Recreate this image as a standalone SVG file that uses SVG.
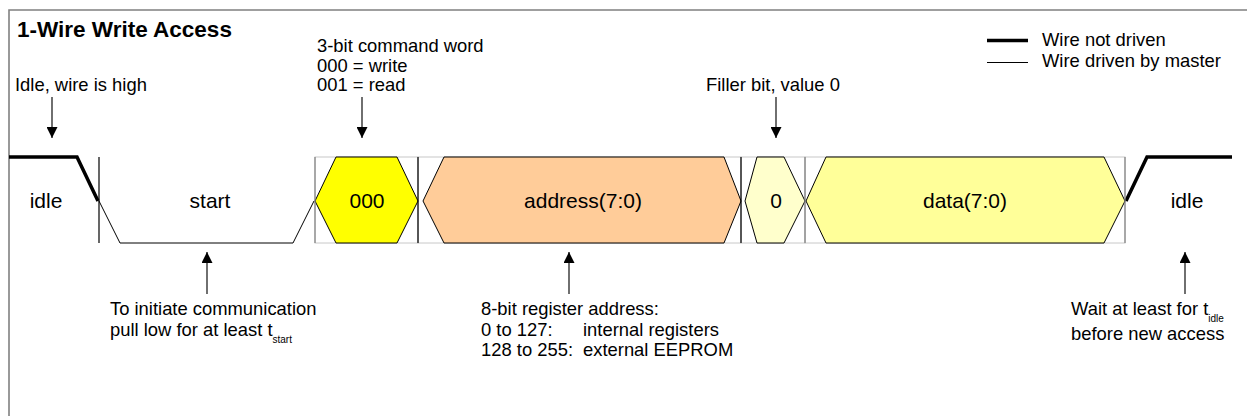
<svg xmlns="http://www.w3.org/2000/svg" width="1247" height="416" viewBox="0 0 1247 416">
<defs>
<style>
text{font-family:"Liberation Sans",Arial,sans-serif;fill:#000}
.ann{font-size:18.4px}
.lbl{font-size:21px;text-anchor:middle}
.sub{font-size:10px}
.title{font-size:22.5px;font-weight:bold}
.thick{fill:none;stroke:#000;stroke-width:3.5;stroke-linejoin:miter}
.thin{fill:none;stroke:#000;stroke-width:1}
.hex{stroke:#000;stroke-width:1}
.cell{fill:none;stroke:#c8c8c8;stroke-width:1}
.sep{stroke:#000;stroke-width:1.2}
.sepg{stroke:#808080;stroke-width:1.2}
.arr{stroke:#333;stroke-width:1.4;fill:none}
.frame{fill:none;stroke:#808080;stroke-width:1.6}
</style>
<marker id="ah" viewBox="0 0 10 10" refX="10" refY="5" markerWidth="11" markerHeight="11" markerUnits="userSpaceOnUse" orient="auto">
<path d="M0,0 L10,5 L0,10 Z" fill="#000"/>
</marker>
</defs>
<rect width="1247" height="416" fill="#fff"/>
<polyline class="frame" points="9,416 9,10 1247,10"/>
<g id="title"><text class="title" x="17" y="36.5">1-Wire Write Access</text></g>
<g id="legend">
<line class="thick" x1="987" y1="40.5" x2="1028" y2="40.5"/>
<line class="thin" x1="987" y1="62.5" x2="1028" y2="62.5"/>
<text class="ann" x="1042" y="46">Wire not driven</text>
<text class="ann" x="1042" y="67">Wire driven by master</text>
</g>
<g id="cells">
<rect class="cell" x="315" y="157" width="103" height="86"/>
<rect class="cell" x="418" y="157" width="323" height="86"/>
<rect class="cell" x="741" y="157" width="64" height="86"/>
<rect class="cell" x="805" y="157" width="320" height="86"/>
</g>
<g id="idle-left">
<polyline class="thick" points="9,157 77,157 98,201"/>
<text class="lbl" x="46" y="208">idle</text>
</g>
<g id="start">
<polyline class="thin" points="99,201 120,243 293,243 314,201"/>
<text class="lbl" x="210" y="208">start</text>
</g>
<g id="cmd">
<polygon class="hex" fill="#ffff00" points="315,201 336,157 397,157 418,201 397,243 336,243"/>
<text class="lbl" x="367" y="208">000</text>
</g>
<g id="address">
<polygon class="hex" fill="#ffcc99" points="423,201 444,157 724,157 741,201 724,243 444,243"/>
<text class="lbl" x="583" y="208">address(7:0)</text>
</g>
<g id="filler">
<polygon class="hex" fill="#ffffcc" points="745,201 757,157 784,157 805,201 784,243 757,243"/>
<text class="lbl" x="776" y="208">0</text>
</g>
<g id="data">
<polygon class="hex" fill="#ffff99" points="806,201 826,157 1104,157 1125,201 1104,243 826,243"/>
<text class="lbl" x="965" y="208">data(7:0)</text>
</g>
<g id="idle-right">
<polyline class="thick" points="1126,201 1147,157 1232,157"/>
<text class="lbl" x="1187" y="208">idle</text>
</g>
<g id="separators">
<line class="sep" x1="99" y1="157" x2="99" y2="243"/>
<line class="sepg" x1="315" y1="157" x2="315" y2="243"/>
<line class="sep" x1="418" y1="157" x2="418" y2="243" stroke="#404040"/>
<line class="sep" x1="741" y1="157" x2="741" y2="243"/>
<line class="sepg" x1="805" y1="157" x2="805" y2="243"/>
<line class="sepg" x1="1125" y1="157" x2="1125" y2="243"/>
</g>
<g id="annotations">
<text class="ann" x="15" y="91">Idle, wire is high</text>
<text class="ann" x="317" y="52">3-bit command word</text>
<text class="ann" x="317" y="71.5">000 = write</text>
<text class="ann" x="317" y="91">001 = read</text>
<text class="ann" x="706" y="91">Filler bit, value 0</text>
<text class="ann" x="110" y="315">To initiate communication</text>
<text class="ann" x="110" y="336">pull low for at least t<tspan class="sub" dy="7">start</tspan></text>
<text class="ann" x="481" y="315">8-bit register address:</text>
<text class="ann" x="481" y="336">0 to 127:</text>
<text class="ann" x="583" y="336">internal registers</text>
<text class="ann" x="481" y="356">128 to 255:</text>
<text class="ann" x="583" y="356">external EEPROM</text>
<text class="ann" x="1071" y="315">Wait at least for t<tspan class="sub" dy="7">idle</tspan></text>
<text class="ann" x="1071" y="340">before new access</text>
</g>
<g id="connectors">
<line class="arr" x1="52" y1="97" x2="52" y2="138" marker-end="url(#ah)"/>
<line class="arr" x1="362" y1="97" x2="362" y2="138" marker-end="url(#ah)"/>
<line class="arr" x1="776" y1="97" x2="776" y2="138" marker-end="url(#ah)"/>
<line class="arr" x1="207" y1="294" x2="207" y2="252" marker-end="url(#ah)"/>
<line class="arr" x1="569" y1="294" x2="569" y2="252" marker-end="url(#ah)"/>
<line class="arr" x1="1185" y1="294" x2="1185" y2="252" marker-end="url(#ah)"/>
</g>
</svg>
